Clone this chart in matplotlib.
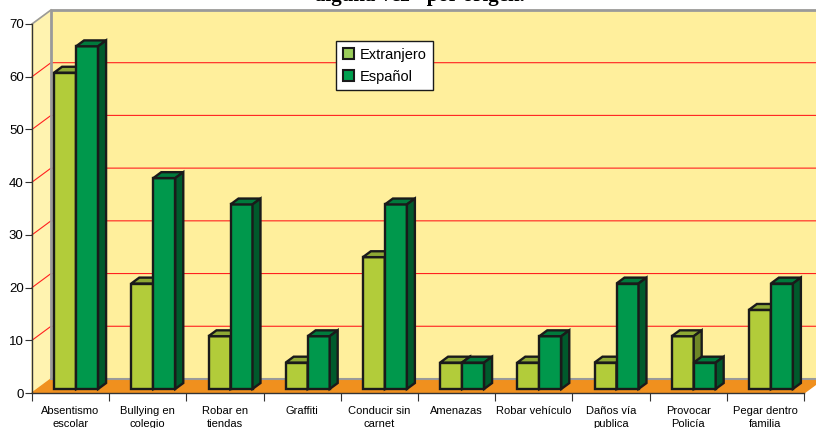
import matplotlib.pyplot as plt
from matplotlib.patches import Patch

plt.rcParams["font.family"] = ["Liberation Sans", "DejaVu Sans"]

categories = ["Absentismo\nescolar", "Bullying en\ncolegio", "Robar en\ntiendas",
              "Graffiti", "Conducir sin\ncarnet", "Amenazas", "Robar vehículo",
              "Daños vía\npublica", "Provocar\nPolicía", "Pegar dentro\nfamilia"]
extranjero = [60, 20, 10, 5, 25, 5, 5, 5, 10, 15]
espanol = [65, 40, 35, 10, 35, 5, 10, 20, 5, 20]
series_names = ["Extranjero", "Español"]
y_ticks = [0, 10, 20, 30, 40, 50, 60, 70]

# 3d depth offsets (x in category units, y in value units)
DX, DY = 0.246, 2.66
F0, F1 = 0.29, 0.71
BAR_LEFT, BAR_W = 0.215, 0.285

light = ("#B2CC3A", "#8DA834", "#6E8626")
dark = ("#00984C", "#007A3C", "#005A2C")

fig = plt.figure(figsize=(8.16, 4.28), dpi=100)
ax = fig.add_axes([32 / 816, 35 / 428, 772 / 816, 369 / 428])
ax.set_xlim(0, 10)
ax.set_ylim(0, 70)
ax.patch.set_visible(False)

n = len(categories)
ymax = y_ticks[-1]

# walls
ax.fill([DX, n + 2, n + 2, DX], [DY, DY, ymax + DY, ymax + DY],
        color="#FFEF9C", zorder=0, clip_on=False)
ax.fill([0, DX, DX, 0], [0, DY, ymax + DY, ymax], color="#FFF3B0", zorder=0, clip_on=False)
for v in y_ticks[1:-1]:
    ax.plot([0, DX, n + 2], [v, v + DY, v + DY], color="#FF2020", lw=0.8, zorder=1, clip_on=False)
ax.plot([DX, DX, n + 2], [DY, ymax + DY, ymax + DY], color="#9A9A9A", lw=2, zorder=1, clip_on=False)
ax.plot([0, DX], [ymax, ymax + DY], color="#9A9A9A", lw=1.2, zorder=1, clip_on=False)

# floor
ax.fill([0, n, n + DX, DX], [0, 0, DY, DY], color="#F0901E", zorder=1, clip_on=False)
ax.plot([DX, n + DX], [DY, DY], color="#9A9A9A", lw=1.5, zorder=1, clip_on=False)


def bar3d(x0, v, cols):
    s0, t0 = F0 * DX, F0 * DY
    s1, t1 = F1 * DX, F1 * DY
    x1 = x0 + BAR_W
    kw = dict(edgecolor="#1A1A1A", lw=1.7, zorder=3, clip_on=False, joinstyle="miter")
    ax.fill([x0 + s0, x1 + s0, x1 + s0, x0 + s0], [t0, t0, v + t0, v + t0], facecolor=cols[0], **kw)
    ax.fill([x0 + s0, x1 + s0, x1 + s1, x0 + s1], [v + t0, v + t0, v + t1, v + t1], facecolor=cols[1], **kw)
    ax.fill([x1 + s0, x1 + s1, x1 + s1, x1 + s0], [t0, t1, v + t1, v + t0], facecolor=cols[2], **kw)


for i in range(n):
    bar3d(i + BAR_LEFT, extranjero[i], light)
    bar3d(i + BAR_LEFT + BAR_W, espanol[i], dark)

# axes
for side in ["top", "right"]:
    ax.spines[side].set_visible(False)
for side in ["left", "bottom"]:
    ax.spines[side].set_color("#333333")
    ax.spines[side].set_linewidth(1.0)
    ax.spines[side].set_zorder(4)

ax.set_yticks(y_ticks)
ax.tick_params(axis="y", length=5, color="#333333", labelsize=9.5, pad=1)
ax.set_xticks(range(n + 1))
ax.set_xticklabels([])
ax.set_xticks([i + 0.5 for i in range(n)], minor=True)
ax.set_xticklabels(categories, minor=True, fontsize=8)
ax.tick_params(axis="x", which="major", length=6, color="#333333")
ax.tick_params(axis="x", which="minor", length=0, pad=9)
for lbl in ax.get_xticklabels(minor=True):
    lbl.set_linespacing(1.45)

handles = [Patch(facecolor="#9ACD5A", edgecolor="#1A1A1A", lw=1.5),
           Patch(facecolor="#00A050", edgecolor="#1A1A1A", lw=1.5)]
leg = fig.legend(handles, series_names, loc="upper left",
                 bbox_to_anchor=(336 / 816, 1 - 41 / 428), borderaxespad=0,
                 fontsize=10.5, fancybox=False, framealpha=1, edgecolor="#1A1A1A",
                 handlelength=0.75, handleheight=0.75, handletextpad=0.4,
                 borderpad=0.45, labelspacing=0.55)
leg.get_frame().set_linewidth(1.0)

fig.text(420 / 816, 1 - 1 / 428, "alguna vez\" por origen.", ha="center", va="baseline",
         fontsize=15, fontweight="bold", family=["Liberation Serif", "DejaVu Serif"])

fig.savefig("out.png", dpi=100)
